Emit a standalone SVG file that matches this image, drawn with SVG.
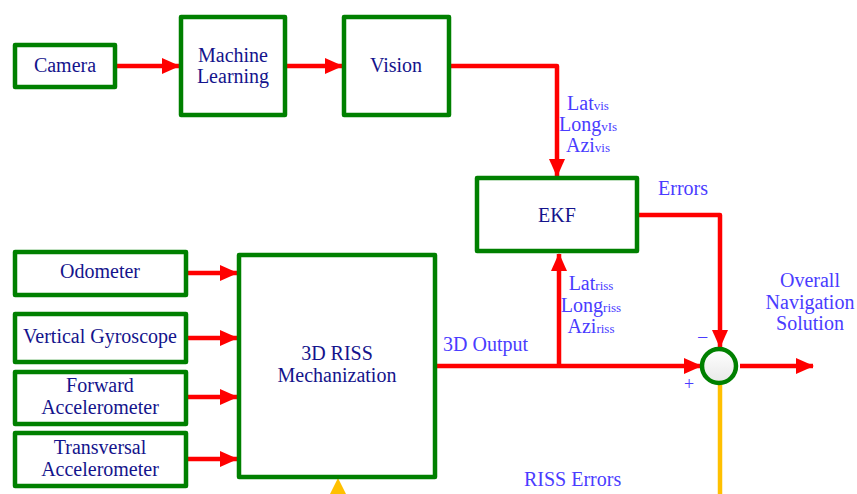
<svg xmlns="http://www.w3.org/2000/svg" width="857" height="494" viewBox="0 0 857 494">
<style>
.box{fill:#fff;stroke:#008000;stroke-width:4.5;stroke-linejoin:round}
.nt{font-family:"Liberation Serif","DejaVu Serif",serif;font-size:20px;fill:#14148c;text-anchor:middle}
.lb{font-family:"Liberation Serif","DejaVu Serif",serif;font-size:20px;fill:#4a3cff}
.lbc{text-anchor:middle}
.sub{font-size:13px}
.wire{fill:none;stroke:#ff0000;stroke-width:4.5;stroke-linejoin:round}
</style>
<defs>
<marker id="ah" markerUnits="userSpaceOnUse" markerWidth="18" markerHeight="16" refX="17" refY="8" orient="auto">
<path d="M0,0 L18,8 L0,16 Z" fill="#ff0000"/>
</marker>
<linearGradient id="cg" x1="0" y1="0" x2="0" y2="1">
<stop offset="0" stop-color="#ffffff"/>
<stop offset="1" stop-color="#e8e8e8"/>
</linearGradient>
</defs>
<g id="connectors">
<line class="wire" x1="116" y1="66" x2="179" y2="66" marker-end="url(#ah)"/>
<line class="wire" x1="287" y1="66" x2="342" y2="66" marker-end="url(#ah)"/>
<polyline class="wire" points="449,66 557,66 557,176" marker-end="url(#ah)"/>
<polyline class="wire" points="639,215 720,215 720,347" marker-end="url(#ah)"/>
<line class="wire" x1="437" y1="366" x2="701" y2="366" marker-end="url(#ah)"/>
<line class="wire" x1="559" y1="366" x2="559" y2="254" marker-end="url(#ah)"/>
<line class="wire" x1="740" y1="366" x2="813" y2="366" marker-end="url(#ah)"/>
<line class="wire" x1="188" y1="273" x2="237" y2="273" marker-end="url(#ah)"/>
<line class="wire" x1="188" y1="338" x2="237" y2="338" marker-end="url(#ah)"/>
<line class="wire" x1="188" y1="397" x2="237" y2="397" marker-end="url(#ah)"/>
<line class="wire" x1="188" y1="459" x2="237" y2="459" marker-end="url(#ah)"/>
<line x1="720" y1="385" x2="720" y2="494" stroke="#ffc000" stroke-width="4.5"/>
<path d="M338,478 L346,494 L330,494 Z" fill="#ffc000"/>
</g>
<g id="camera"><rect class="box" x="15" y="45" width="100" height="42"/><text class="nt" x="65" y="72">Camera</text></g>
<g id="ml"><rect class="box" x="181" y="17" width="104" height="98"/><text class="nt" x="233" y="62">Machine</text><text class="nt" x="233" y="83">Learning</text></g>
<g id="vision"><rect class="box" x="344" y="17" width="105" height="98"/><text class="nt" x="396" y="72">Vision</text></g>
<g id="ekf"><rect class="box" x="477" y="178" width="160" height="73"/><text class="nt" x="557" y="222">EKF</text></g>
<g id="odometer"><rect class="box" x="15" y="252" width="171" height="43"/><text class="nt" x="100" y="278">Odometer</text></g>
<g id="gyro"><rect class="box" x="15" y="314" width="171" height="48"/><text class="nt" x="100" y="343">Vertical Gyroscope</text></g>
<g id="fwd"><rect class="box" x="15" y="372" width="171" height="52"/><text class="nt" x="100" y="392">Forward</text><text class="nt" x="100" y="414">Accelerometer</text></g>
<g id="trans"><rect class="box" x="15" y="433" width="171" height="53"/><text class="nt" x="100" y="454">Transversal</text><text class="nt" x="100" y="476">Accelerometer</text></g>
<g id="riss"><rect class="box" x="239" y="255" width="196" height="222"/><text class="nt" x="337" y="360">3D RISS</text><text class="nt" x="337" y="382">Mechanization</text></g>
<g id="sum"><circle cx="719" cy="366" r="17" fill="url(#cg)" stroke="#008000" stroke-width="4.5"/></g>
<g id="labels">
<text class="lb lbc" x="588" y="110">Lat<tspan class="sub">vis</tspan></text>
<text class="lb lbc" x="588" y="131">Long<tspan class="sub">vIs</tspan></text>
<text class="lb lbc" x="588" y="152">Azi<tspan class="sub">vis</tspan></text>
<text class="lb" x="658" y="195">Errors</text>
<text class="lb lbc" x="591" y="290">Lat<tspan class="sub">riss</tspan></text>
<text class="lb lbc" x="591" y="312">Long<tspan class="sub">riss</tspan></text>
<text class="lb lbc" x="591" y="333">Azi<tspan class="sub">riss</tspan></text>
<text class="lb" x="443" y="351">3D Output</text>
<text class="lb lbc" x="810" y="287">Overall</text>
<text class="lb lbc" x="810" y="309">Navigation</text>
<text class="lb lbc" x="810" y="330">Solution</text>
<text class="lb" x="524" y="486">RISS Errors</text>
<text class="lb" x="697" y="344" style="font-size:20px">−</text>
<text class="lb" x="684" y="390" style="font-size:18px">+</text>
</g>
</svg>
